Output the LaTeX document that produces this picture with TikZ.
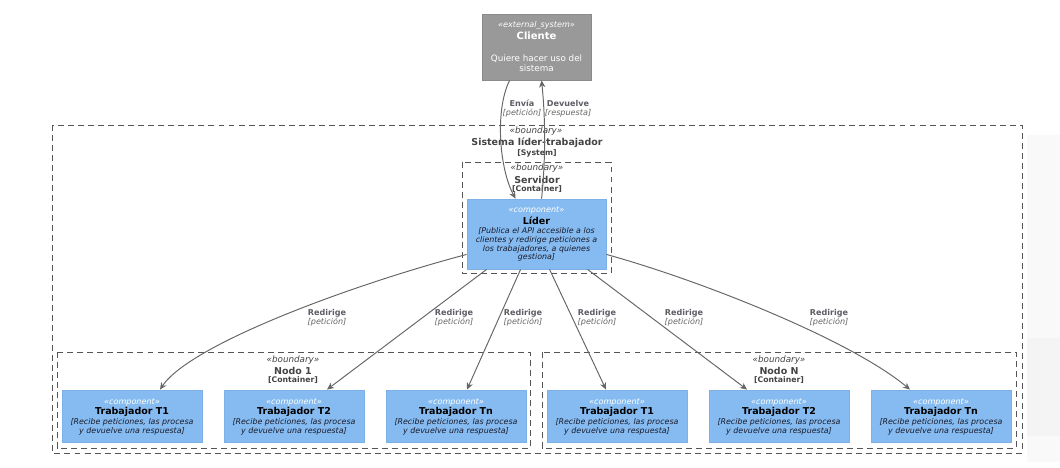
\documentclass[tikz,border=0pt]{standalone}
\usepackage{fontspec}
\setmainfont{DejaVu Sans}
\usetikzlibrary{calc,arrows.meta}
\definecolor{compfill}{HTML}{85BBF0}
\definecolor{compline}{HTML}{7DB0E4}
\definecolor{extfill}{HTML}{999999}
\definecolor{extline}{HTML}{8A8A8A}
\definecolor{bnd}{HTML}{444444}
\definecolor{bndline}{HTML}{555555}
\definecolor{relc}{HTML}{666666}
\definecolor{reltxt}{HTML}{5E5E66}
\definecolor{desctxt}{HTML}{1A1A2A}

\begin{document}
\begin{tikzpicture}[x=0.02cm,y=-0.02cm,
  stereo/.style={inner sep=0, font=\fontsize{4.6}{5.5}\selectfont\itshape},
  bstereo/.style={inner sep=0, text=bnd, font=\fontsize{5}{6}\selectfont\itshape},
  title/.style={inner sep=0, font=\fontsize{5.4}{6.5}\selectfont\bfseries},
  tech/.style={inner sep=0, text=bnd, font=\fontsize{4.4}{5}\selectfont\bfseries},
  descr/.style={inner sep=0, align=center, text=desctxt, font=\fontsize{4.5}{5.0}\selectfont\itshape},
  comp/.style={draw=compline, fill=compfill, line width=0.5pt, minimum width=2.8cm, minimum height=1.04cm, inner sep=0},
  ext/.style={draw=extline, fill=extfill, line width=0.5pt, minimum width=2.18cm, minimum height=1.32cm, inner sep=0},
  boundary/.style={draw=bndline, dash pattern=on 3.4pt off 2.3pt, line width=0.55pt},
  relline/.style={draw=relc, line width=0.55pt, -{Stealth[length=4pt,width=3.6pt]}},
  rellabel/.style={inner sep=0, align=center, font=\fontsize{4.6}{5.1}\selectfont},
]
\useasboundingbox (0,0) rectangle (1060,467);
\fill[white] (0,0) rectangle (1060,467);
% faint backdrop on the right margin
\fill[gray!5] (1027,135) rectangle (1060,462);
\fill[gray!9] (1027,338) rectangle (1060,436);

% boundaries
\draw[boundary] (52,125) rectangle (1022,453);
\draw[boundary] (462,162) rectangle (611,273);
\draw[boundary] (57,352) rectangle (530,448);
\draw[boundary] (542,352) rectangle (1016,448);

% system boundary label
\node[bstereo] (sysst) at (536,131) {«boundary»};
\node[title, text=bnd] (systt) at (537,143) {Sistema líder-trabajador};
\node[tech] (systc) at (537,153) {[System]};

% server boundary label
\node[bstereo] (srvst) at (537,168) {«boundary»};
\node[title, text=bnd] (srvtt) at (537,180) {Servidor};
\node[tech] (srvtc) at (537,189.5) {[Container]};

% node boundary labels
\node[bstereo] (n1st) at (293,360) {«boundary»};
\node[title, text=bnd] (n1tt) at (293,370.5) {Nodo 1};
\node[tech] (n1tc) at (293,380.5) {[Container]};
\node[bstereo] (nnst) at (779,360) {«boundary»};
\node[title, text=bnd] (nntt) at (779,370.5) {Nodo N};
\node[tech] (nntc) at (779,380.5) {[Container]};

% client
\node[ext] (cliente) at (536.5,47) {};
\node[stereo, text=white] (clst) at (536.5,25) {«external\_system»};
\node[title, text=white, font=\fontsize{5.7}{6.5}\selectfont\bfseries] (cltt) at (536.5,36) {Cliente};
\node[inner sep=0, align=center, text=white, font=\fontsize{5}{5.7}\selectfont] (clds) at (536.5,63) {Quiere hacer uso del\\sistema};

% leader
\node[comp, minimum width=2.78cm, minimum height=1.4cm] (lider) at (536.5,234) {};
\node[stereo, text=white] (lst) at (536.5,210.5) {«component»};
\node[title] (ltt) at (536.5,221) {Líder};
\node[descr, font=\fontsize{4.5}{4.95}\selectfont\itshape] (lds) at (536.5,244.5) {[Publica el API accesible a los\\clientes y redirige peticiones a\\los trabajadores, a quienes\\gestiona]};

% workers
\foreach \n/\x/\t in {t1/132/T1, t2/294/T2, tn/456/Tn, nt1/617/T1, nt2/779/T2, ntn/941/Tn} {
  \node[comp] (\n) at (\x,416) {};
  \node[stereo, text=white] (\n st) at (\x,402) {«component»};
  \node[title] (\n tt) at (\x,411.5) {Trabajador \t};
  \node[descr] (\n ds) at (\x,426.5) {[Recibe peticiones, las procesa\\y devuelve una respuesta]};
}

% client <-> leader
\draw[relline] ($(cliente.south west)+(28,0)$) .. controls +(-15,30) and +(-16,-29) .. ($(lider.north west)+(49,0)$);
\draw[relline] ($(lider.north west)+(75,0)$) .. controls +(4,-39) and +(4,40) .. ($(cliente.south west)+(60,0)$);
\node[rellabel] (lenv) at (522,109) {\textcolor{reltxt}{\bfseries Envía}\\\textcolor{relc}{\itshape [petición]}};
\node[rellabel] (ldev) at (568,109) {\textcolor{reltxt}{\bfseries Devuelve}\\\textcolor{relc}{\itshape [respuesta]}};

% leader -> workers
\draw[relline] ($(lider.south west)+(0,-15)$) .. controls +(-117,31) and +(30,-45) .. ($(t1.north)+(28,0)$);
\draw[relline] ($(lider.south west)+(20,0)$) -- ($(t2.north)+(33,0)$);
\draw[relline] ($(lider.south west)+(54,0)$) -- ($(tn.north)+(11,0)$);
\draw[relline] ($(lider.south west)+(83,0)$) -- ($(nt1.north)+(-11,0)$);
\draw[relline] ($(lider.south west)+(121,0)$) -- ($(nt2.north)+(-32,0)$);
\draw[relline] ($(lider.south east)+(0,-15)$) .. controls +(94,26) and +(-60,-50) .. ($(ntn.north)+(-31,0)$);

\foreach \n/\x in {r1/327, r2/454, r3/523, r4/597, r5/684, r6/829} {
  \node[rellabel] (\n) at (\x,317.5) {\textcolor{reltxt}{\bfseries Redirige}\\\textcolor{relc}{\itshape [petición]}};
}
\end{tikzpicture}
\end{document}
